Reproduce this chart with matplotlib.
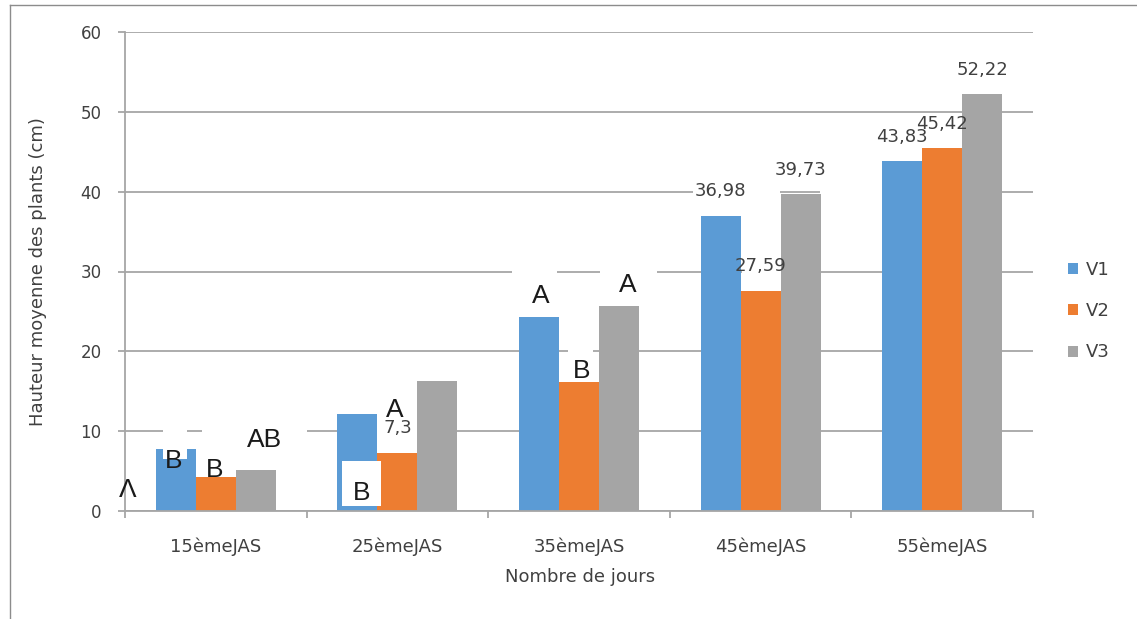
import numpy as np
import matplotlib
matplotlib.use("Agg")
import matplotlib.pyplot as plt
from matplotlib.patches import Rectangle
from matplotlib.lines import Line2D

# ---- data ----
categories = ["15èmeJAS", "25èmeJAS", "35èmeJAS", "45èmeJAS", "55èmeJAS"]
series_names = ["V1", "V2", "V3"]
v1 = [7.8, 12.2, 24.35, 36.98, 43.83]
v2 = [4.2, 7.3, 16.2, 27.59, 45.42]
v3 = [5.1, 16.3, 25.7, 39.73, 52.22]
yticks = [0, 10, 20, 30, 40, 50, 60]

# which bars carry a numeric value label: (series index, category index)
value_labels = [(1, 1), (0, 3), (1, 3), (2, 3), (0, 4), (1, 4), (2, 4)]

# significance letters: text, x (category units), baseline y (cm)
letter_text = ["Λ", "B", "B", "AB", "B", "A", "A", "B", "A"]
letter_x = [-0.483, -0.23, -0.004, 0.271, 0.805, 0.987, 1.791, 2.017, 2.27]
letter_y = [1.75, 5.39, 4.3, 8.02, 1.38, 11.78, 26.06, 16.66, 27.43]

colors = ["#5B9BD5", "#ED7D31", "#A5A5A5"]
GRID = "#A6A6A6"
TXT = "#404040"

W, H = 1137, 619
fig = plt.figure(figsize=(W / 100, H / 100), dpi=100)
ax = fig.add_axes([125 / W, (H - 511) / H, 908 / W, 479 / H])

x = np.arange(len(categories))
bw = 0.22
offsets = [-bw, 0.0, bw]
values = [v1, v2, v3]
bars = []
for vals, off, c, name in zip(values, offsets, colors, series_names):
    bars.append(ax.bar(x + off, vals, width=bw, color=c, zorder=2, label=name))

ax.set_xlim(-0.5, 4.5)
ax.set_ylim(0, 60)
ax.set_yticks(yticks)
ax.yaxis.grid(True, color=GRID, lw=1.3)
ax.set_axisbelow(True)

for s in ["top", "right"]:
    ax.spines[s].set_visible(False)
for s in ["left", "bottom"]:
    ax.spines[s].set_color(GRID)
    ax.spines[s].set_linewidth(1.3)

ax.set_xticks(x)
ax.set_xticklabels(categories)
ax.set_xticks(np.arange(-0.5, 5.0, 1.0), minor=True)
ax.tick_params(axis="x", which="major", length=0, pad=19, labelsize=13, labelcolor=TXT)
ax.tick_params(axis="x", which="minor", length=5, width=1.3, color=GRID, direction="out")
ax.tick_params(axis="y", length=5, width=1.3, color=GRID, pad=12, labelsize=12, labelcolor=TXT)
for lab in ax.get_xticklabels() + ax.get_yticklabels():
    lab.set_family("DejaVu Sans")

# white label backdrops: (x0, x1, y0, y1, above_bars)
backdrops = [
    (-0.291, -0.159, 6.5, 10.3, True),
    (-0.076, 0.502, 9.6, 10.4, False),
    (0.695, 0.910, 0.6, 6.3, True),
    (0.89, 1.15, 9.6, 10.4, False),
    (1.939, 2.077, 19.6, 20.4, False),
    (1.631, 1.879, 29.6, 30.4, False),
    (2.116, 2.430, 29.6, 30.4, False),
    (2.90, 3.13, 29.6, 30.4, False),
    (2.628, 3.107, 39.6, 40.4, False),
    (3.327, 3.669, 39.6, 40.4, False),
]
for x0, x1, y0, y1, above in backdrops:
    ax.add_patch(Rectangle((x0, y0), x1 - x0, y1 - y0, facecolor="white",
                           edgecolor="none", zorder=2.5 if above else 1))

# numeric value labels
for si, ci in value_labels:
    v = values[si][ci]
    ax.annotate(f"{v:g}".replace(".", ","), xy=(ci + offsets[si], v),
                xytext=(0, 11), textcoords="offset points", ha="center",
                va="bottom", fontsize=13, color=TXT, family="DejaVu Sans", zorder=3)

# significance letters
for t, lx, ly in zip(letter_text, letter_x, letter_y):
    ax.text(lx, ly, t, ha="center", va="baseline", fontsize=19,
            family="Liberation Sans", color="#1a1a1a", zorder=3)

# axis titles
fig.text(580 / W, 1 - 577 / H, "Nombre de jours", ha="center", va="center",
         fontsize=13, color=TXT, family="DejaVu Sans")
fig.text(38 / W, 1 - 272 / H, "Hauteur moyenne des plants (cm)", ha="center",
         va="center", rotation=90, fontsize=13, color=TXT, family="DejaVu Sans")

# legend
leg = ax.legend(handles=bars, labels=series_names, loc="center left",
                bbox_to_anchor=(1068 / W, 1 - 311 / H), bbox_transform=fig.transFigure,
                frameon=False, handlelength=0.55, handleheight=0.55,
                handletextpad=0.45, labelspacing=1.3, borderpad=0, borderaxespad=0,
                prop={"family": "DejaVu Sans", "size": 13})
for t in leg.get_texts():
    t.set_color(TXT)

# outer chart frame (left and top edges)
fig.add_artist(Line2D([10 / W, 10 / W], [0, 1 - 5 / H], transform=fig.transFigure,
                      color="#8C8C8C", lw=1))
fig.add_artist(Line2D([10 / W, 1], [1 - 5 / H, 1 - 5 / H], transform=fig.transFigure,
                      color="#8C8C8C", lw=1))

fig.savefig("out.png", dpi=100, facecolor="white")
